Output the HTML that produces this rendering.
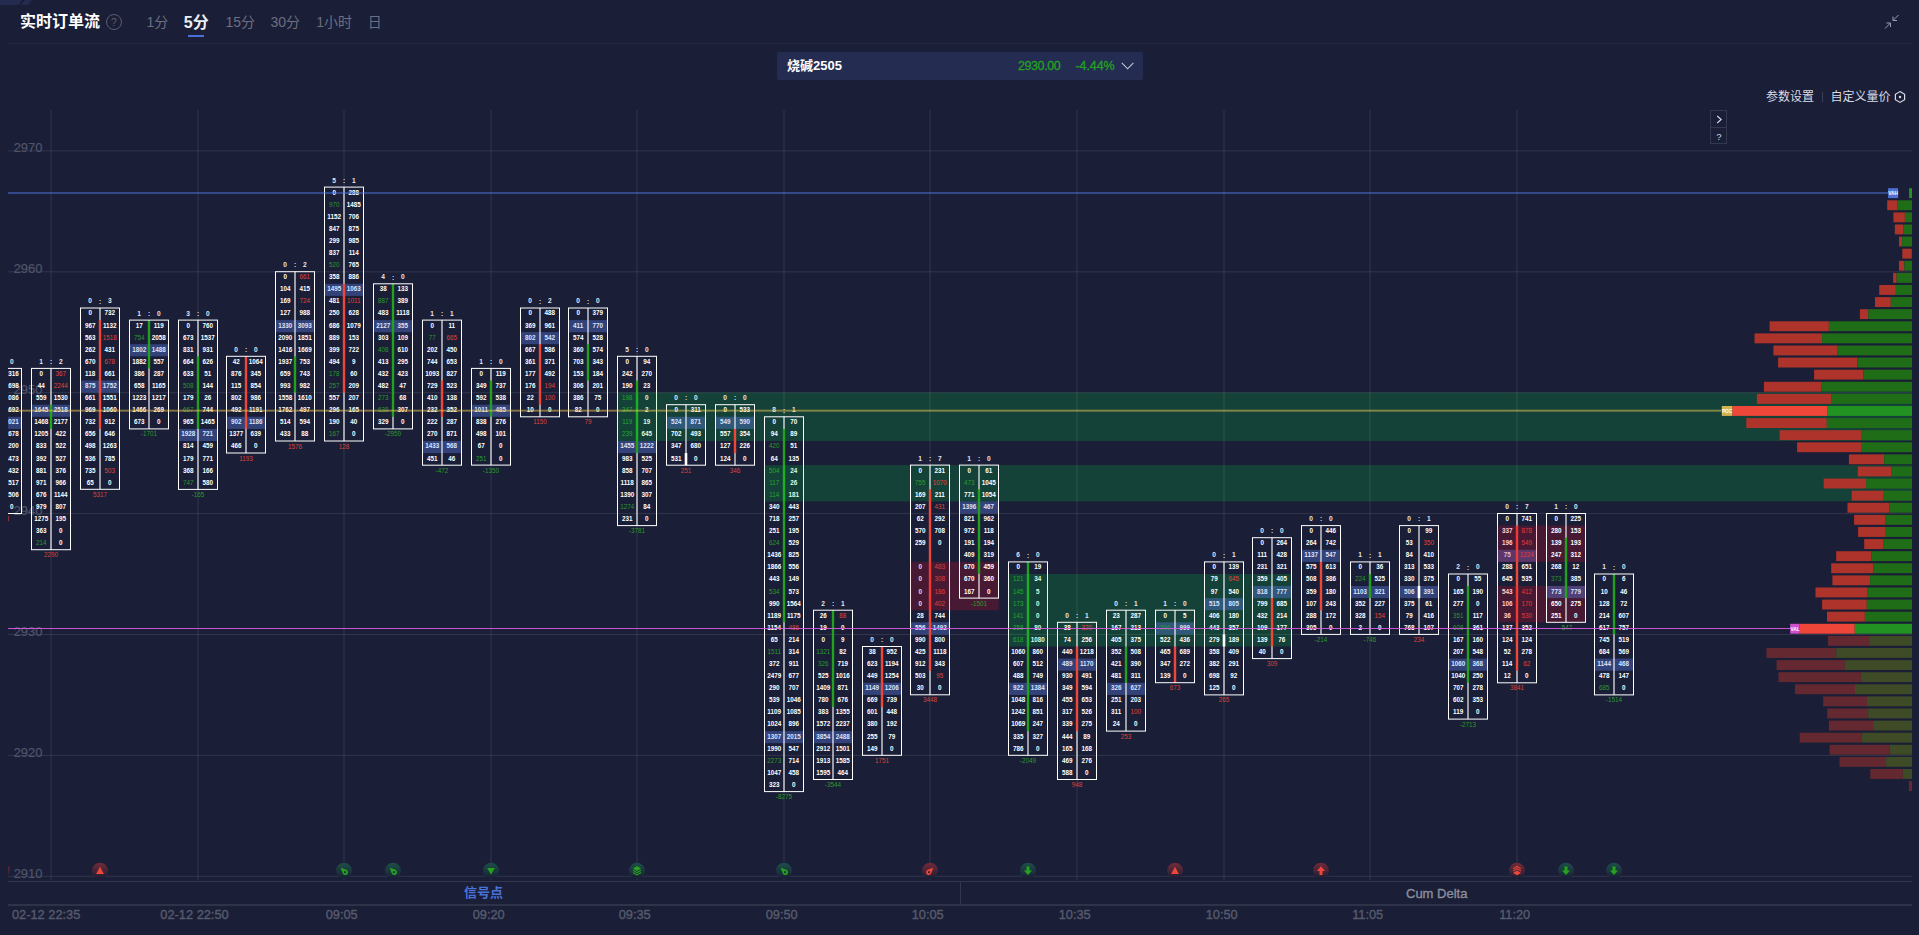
<!DOCTYPE html>
<html lang="zh-CN"><head><meta charset="utf-8"><title>实时订单流</title>
<style>
html,body{margin:0;padding:0;background:#1a1e37;}
body{width:1919px;height:935px;overflow:hidden;position:relative;font-family:"Liberation Sans","Noto Sans CJK SC",sans-serif;color:#fff;}
.abs{position:absolute;white-space:nowrap;}
.title{left:20px;top:10px;height:24px;line-height:24px;font-size:16px;font-weight:bold;color:#fff;}
.tab{top:11px;height:22px;line-height:22px;font-size:14px;color:#6b6f82;}
.tab.on{font-size:16px;font-weight:bold;color:#eceef5;top:11.5px;}
.hline{left:8px;width:1904px;top:43px;height:1px;background:#24283f;}
.sel{left:777px;top:52px;width:366px;height:28px;background:#252c52;border-radius:2px;}
.sel .nm{left:10px;top:0;line-height:27px;font-size:13px;font-weight:bold;color:#fff;}
.sel .pr{left:241px;top:0;line-height:29px;font-size:12.5px;color:#23a023;letter-spacing:-0.42px;-webkit-text-stroke:0.3px #23a023;}
.sel .pc{left:298.5px;top:0;line-height:29px;font-size:12.5px;color:#23a023;letter-spacing:-0.1px;-webkit-text-stroke:0.3px #23a023;}
.tool{top:88px;line-height:18px;font-size:12px;color:#d9dbe5;}
.btns{left:1710px;top:110px;width:15px;height:32px;border:1px solid #33374f;box-sizing:content-box;}
.strip{left:8px;width:1904px;top:881px;height:24px;border-top:1px solid #33364c;box-sizing:border-box;}
.strip2{left:8px;width:1904px;top:904.45px;height:1.5px;background:#2f3349;}
.tl{top:907.2px;line-height:16px;font-size:12.8px;color:#565a6c;-webkit-text-stroke:0.4px #565a6c;}
svg .ph{fill:#597bdf;fill-opacity:.4}
svg .wk{fill:#fff;fill-opacity:.56}
svg .bx{fill:none;stroke:#fff;stroke-width:1}
svg .bg{fill:#00ff3d;fill-opacity:.16}
svg .br{fill:#ff0a28;fill-opacity:.205}
svg .n{font-family:"Liberation Sans",sans-serif;font-size:6.3px;font-weight:bold;fill:#fff;text-anchor:middle}
svg .rt{font-family:"Liberation Sans",sans-serif;font-size:6.6px;font-weight:bold;fill:#e6e7ee;text-anchor:middle}
svg .dr,svg .dg{font-family:"Liberation Sans",sans-serif;font-size:6.4px;text-anchor:middle}
svg .dr{fill:#d8453b}
svg .dg{fill:#2a9a2a}
svg text.g{fill:#2a9a2a;font-weight:normal}
svg text.r{fill:#e0453a;font-weight:normal}
svg text.p{fill:#dbe3ff}
</style></head><body>
<svg class="abs" style="left:0;top:0" width="32" height="6" viewBox="0 0 32 6"><path d="M0 0 H32 L28 5 H0 Z" fill="#232b4f"/><path d="M22 0 H24.5 L21 5 H18.5 Z" fill="#1a1e37"/></svg>
<div class="abs title">实时订单流</div>
<svg class="abs" style="left:105px;top:13px" width="18" height="18" viewBox="0 0 18 18"><circle cx="9" cy="9" r="7.5" fill="none" stroke="#5b5f73" stroke-width="1"/><text x="9" y="12.6" font-size="10.5" fill="#5b5f73" text-anchor="middle" font-family="Liberation Sans, sans-serif">?</text></svg>
<div class="abs tab" style="left:146.5px">1分</div>
<div class="abs tab on" style="left:183.8px">5分</div>
<div class="abs" style="left:188px;top:35px;width:16px;height:2px;background:#4a6fd8"></div>
<div class="abs tab" style="left:225.5px">15分</div>
<div class="abs tab" style="left:270.5px">30分</div>
<div class="abs tab" style="left:316.3px">1小时</div>
<div class="abs tab" style="left:367.8px">日</div>
<svg class="abs" style="left:1883px;top:13px" width="18" height="18" viewBox="0 0 18 18" fill="none" stroke="#9a9eb0" stroke-width="1"><path d="M15.5 2 L10 7.5 M10 3.5 V7.5 H14 M2 15.5 L7.5 10 M3.5 10 H7.5 V14"/></svg>
<div class="abs hline"></div>
<div class="abs sel"><span class="abs nm">烧碱2505</span><span class="abs pr">2930.00</span><span class="abs pc">-4.44%</span>
<svg class="abs" style="left:343px;top:9px" width="16" height="10" viewBox="0 0 16 10" fill="none" stroke="#c3c7d3" stroke-width="1.1"><path d="M1.8 1.8 L7.6 7.8 L13.4 1.8"/></svg></div>
<div class="abs tool" style="left:1766px">参数设置</div>
<div class="abs" style="left:1822px;top:92px;width:1px;height:10px;background:#3a3e58"></div>
<div class="abs tool" style="left:1830.5px">自定义量价</div>
<svg class="abs" style="left:1893px;top:90px" width="14" height="14" viewBox="0 0 14 14"><path d="M7 1.6 L11.6 4.3 V9.7 L7 12.4 L2.4 9.7 V4.3 Z" fill="none" stroke="#d9dbe5" stroke-width="1.2"/><circle cx="7" cy="7" r="1.2" fill="#d9dbe5"/></svg>
<div class="abs btns"><svg class="abs" style="left:0;top:0" width="16" height="33" viewBox="0 0 16 33"><line x1="0" x2="16" y1="16.5" y2="16.5" stroke="#33374f"/><path d="M6.2 5 L10.2 8.5 L6.2 12" fill="none" stroke="#d9dbe5" stroke-width="1.1"/><text x="8" y="28.7" font-size="9.5" fill="#d9dbe5" text-anchor="middle" font-family="Liberation Sans, sans-serif">?</text></svg></div>

<svg class="abs" style="left:0;top:0" width="1919" height="935" viewBox="0 0 1919 935">
<defs>
<clipPath id="clipL"><rect x="8" y="100" width="1904" height="790"/></clipPath>
<linearGradient id="gradr" x1="0" y1="0" x2="0" y2="1"><stop offset="0" stop-color="#e03a3a" stop-opacity="0.45"/><stop offset="1" stop-color="#e03a3a" stop-opacity="0"/></linearGradient>
<linearGradient id="gradg" x1="0" y1="0" x2="0" y2="1"><stop offset="0" stop-color="#20a060" stop-opacity="0.38"/><stop offset="1" stop-color="#20a060" stop-opacity="0"/></linearGradient>
</defs>
<g id="grid" stroke="#ffffff" stroke-opacity="0.105" stroke-width="1">
<line x1="8" x2="1912" y1="150.9" y2="150.9"/>
<line x1="8" x2="1912" y1="271.8" y2="271.8"/>
<line x1="8" x2="1912" y1="392.7" y2="392.7"/>
<line x1="8" x2="1912" y1="513.6" y2="513.6"/>
<line x1="8" x2="1912" y1="634.5" y2="634.5"/>
<line x1="8" x2="1912" y1="755.4" y2="755.4"/>
<line x1="8" x2="1912" y1="876.3" y2="876.3"/>
<line x1="51" x2="51" y1="110" y2="880"/>
<line x1="198" x2="198" y1="110" y2="880"/>
<line x1="344" x2="344" y1="110" y2="880"/>
<line x1="491" x2="491" y1="110" y2="880"/>
<line x1="637" x2="637" y1="110" y2="880"/>
<line x1="784" x2="784" y1="110" y2="880"/>
<line x1="930" x2="930" y1="110" y2="880"/>
<line x1="1077" x2="1077" y1="110" y2="880"/>
<line x1="1224" x2="1224" y1="110" y2="880"/>
<line x1="1370" x2="1370" y1="110" y2="880"/>
<line x1="1517" x2="1517" y1="110" y2="880"/>
</g>
<g id="ylabels" font-size="12.9" fill="#50546a" stroke="#50546a" stroke-width="0.2" font-family="Liberation Sans, sans-serif">
<text x="13.7" y="152.1">2970</text>
<text x="13.7" y="273">2960</text>
<text x="13.7" y="393.9">2950</text>
<text x="13.7" y="514.8">2940</text>
<text x="13.7" y="635.7">2930</text>
<text x="13.7" y="756.6">2920</text>
<text x="13.7" y="877.5">2910</text>
</g>
<g id="bars" clip-path="url(#clipL)">
<g>
<rect class="ph" x="-18" y="416.8" width="40" height="12.1"/>
<rect class="wk" x="1" y="368.4" width="2" height="145.1"/>
<rect class="bx" x="-17.5" y="368.4" width="39" height="145.1"/>
<g class="n">
<text x="-7.8" y="375.8">0</text>
<text x="11.8" y="375.8">2316</text>
<text x="-7.8" y="387.9">84</text>
<text x="11.8" y="387.9">1698</text>
<text x="-7.8" y="400">913</text>
<text x="11.8" y="400">1086</text>
<text x="-7.8" y="412.1">1204</text>
<text x="11.8" y="412.1">1692</text>
<text x="-7.8" y="424.2" class="p">1833</text>
<text x="11.8" y="424.2" class="p">2021</text>
<text x="-7.8" y="436.3">967</text>
<text x="11.8" y="436.3">1678</text>
<text x="-7.8" y="448.4">455</text>
<text x="11.8" y="448.4">1200</text>
<text x="-7.8" y="460.5">612</text>
<text x="11.8" y="460.5">1473</text>
<text x="-7.8" y="472.6">388</text>
<text x="11.8" y="472.6">1432</text>
<text x="-7.8" y="484.6">702</text>
<text x="11.8" y="484.6">1517</text>
<text x="-7.8" y="496.7">344</text>
<text x="11.8" y="496.7">1506</text>
<text x="-7.8" y="508.8">161</text>
<text x="11.8" y="508.8">0</text>
</g>
<g class="rt"><text x="-7.8" y="363.9">1</text><text x="2" y="364.1">:</text><text x="11.8" y="363.9">0</text></g>
<text class="dr" x="2" y="521">1208</text>
</g>
<g>
<rect class="ph" x="31" y="404.7" width="40" height="12.1"/>
<rect class="wk" x="50" y="368.4" width="2" height="181.3"/>
<rect x="49.8" y="404.7" width="2.4" height="24.2" fill="#22a01e"/>
<rect class="bx" x="31.5" y="368.4" width="39" height="181.3"/>
<g class="n">
<text x="41.2" y="375.8">0</text>
<text x="60.8" y="375.8" class="r">367</text>
<text x="41.2" y="387.9">44</text>
<text x="60.8" y="387.9" class="r">2244</text>
<text x="41.2" y="400">559</text>
<text x="60.8" y="400">1530</text>
<text x="41.2" y="412.1" class="p">1645</text>
<text x="60.8" y="412.1" class="p">2518</text>
<text x="41.2" y="424.2">1468</text>
<text x="60.8" y="424.2">2177</text>
<text x="41.2" y="436.3">1205</text>
<text x="60.8" y="436.3">422</text>
<text x="41.2" y="448.4">833</text>
<text x="60.8" y="448.4">522</text>
<text x="41.2" y="460.5">392</text>
<text x="60.8" y="460.5">527</text>
<text x="41.2" y="472.6">881</text>
<text x="60.8" y="472.6">376</text>
<text x="41.2" y="484.6">971</text>
<text x="60.8" y="484.6">966</text>
<text x="41.2" y="496.7">676</text>
<text x="60.8" y="496.7">1144</text>
<text x="41.2" y="508.8">979</text>
<text x="60.8" y="508.8">807</text>
<text x="41.2" y="520.9">1275</text>
<text x="60.8" y="520.9">195</text>
<text x="41.2" y="533">363</text>
<text x="60.8" y="533">0</text>
<text x="41.2" y="545.1" class="g">214</text>
<text x="60.8" y="545.1">0</text>
</g>
<g class="rt"><text x="41.2" y="363.9">1</text><text x="51" y="364.1">:</text><text x="60.8" y="363.9">2</text></g>
<text class="dr" x="51" y="557.3">2290</text>
</g>
<g>
<rect class="ph" x="80" y="380.5" width="40" height="12.1"/>
<rect class="wk" x="99" y="308" width="2" height="181.3"/>
<rect x="98.8" y="320.1" width="2.4" height="108.8" fill="#ee4638"/>
<rect class="bx" x="80.5" y="308" width="39" height="181.3"/>
<g class="n">
<text x="90.2" y="315.4">0</text>
<text x="109.8" y="315.4">732</text>
<text x="90.2" y="327.5">967</text>
<text x="109.8" y="327.5">1132</text>
<text x="90.2" y="339.6">563</text>
<text x="109.8" y="339.6" class="r">1518</text>
<text x="90.2" y="351.7">262</text>
<text x="109.8" y="351.7">431</text>
<text x="90.2" y="363.7">670</text>
<text x="109.8" y="363.7" class="r">678</text>
<text x="90.2" y="375.8">118</text>
<text x="109.8" y="375.8">661</text>
<text x="90.2" y="387.9" class="p">875</text>
<text x="109.8" y="387.9" class="p">1752</text>
<text x="90.2" y="400">661</text>
<text x="109.8" y="400">1551</text>
<text x="90.2" y="412.1">969</text>
<text x="109.8" y="412.1">1060</text>
<text x="90.2" y="424.2">732</text>
<text x="109.8" y="424.2">912</text>
<text x="90.2" y="436.3">656</text>
<text x="109.8" y="436.3">646</text>
<text x="90.2" y="448.4">498</text>
<text x="109.8" y="448.4">1263</text>
<text x="90.2" y="460.5">536</text>
<text x="109.8" y="460.5">785</text>
<text x="90.2" y="472.6">735</text>
<text x="109.8" y="472.6" class="r">503</text>
<text x="90.2" y="484.6">65</text>
<text x="109.8" y="484.6">0</text>
</g>
<g class="rt"><text x="90.2" y="303.4">0</text><text x="100" y="303.6">:</text><text x="109.8" y="303.4">3</text></g>
<text class="dr" x="100" y="496.8">5317</text>
</g>
<g>
<rect class="ph" x="129" y="344.2" width="40" height="12.1"/>
<rect class="wk" x="148" y="320.1" width="2" height="108.8"/>
<rect x="147.8" y="320.1" width="2.4" height="48.4" fill="#22a01e"/>
<rect class="bx" x="129.5" y="320.1" width="39" height="108.8"/>
<g class="n">
<text x="139.2" y="327.5">17</text>
<text x="158.8" y="327.5">119</text>
<text x="139.2" y="339.6" class="g">754</text>
<text x="158.8" y="339.6">2058</text>
<text x="139.2" y="351.7" class="p">1802</text>
<text x="158.8" y="351.7" class="p">1488</text>
<text x="139.2" y="363.7">1882</text>
<text x="158.8" y="363.7">557</text>
<text x="139.2" y="375.8">386</text>
<text x="158.8" y="375.8">287</text>
<text x="139.2" y="387.9">658</text>
<text x="158.8" y="387.9">1165</text>
<text x="139.2" y="400">1223</text>
<text x="158.8" y="400">1217</text>
<text x="139.2" y="412.1">1466</text>
<text x="158.8" y="412.1">269</text>
<text x="139.2" y="424.2">673</text>
<text x="158.8" y="424.2">0</text>
</g>
<g class="rt"><text x="139.2" y="315.5">1</text><text x="149" y="315.7">:</text><text x="158.8" y="315.5">0</text></g>
<text class="dg" x="149" y="436.4">-1701</text>
</g>
<g>
<rect class="ph" x="178" y="428.9" width="40" height="12.1"/>
<rect class="wk" x="197" y="320.1" width="2" height="169.3"/>
<rect x="196.8" y="356.3" width="2.4" height="72.5" fill="#22a01e"/>
<rect class="bx" x="178.5" y="320.1" width="39" height="169.3"/>
<g class="n">
<text x="188.2" y="327.5">0</text>
<text x="207.8" y="327.5">760</text>
<text x="188.2" y="339.6">673</text>
<text x="207.8" y="339.6">1537</text>
<text x="188.2" y="351.7">831</text>
<text x="207.8" y="351.7">931</text>
<text x="188.2" y="363.7">664</text>
<text x="207.8" y="363.7">626</text>
<text x="188.2" y="375.8">633</text>
<text x="207.8" y="375.8">51</text>
<text x="188.2" y="387.9" class="g">508</text>
<text x="207.8" y="387.9">144</text>
<text x="188.2" y="400">179</text>
<text x="207.8" y="400">26</text>
<text x="188.2" y="412.1" class="g">667</text>
<text x="207.8" y="412.1">744</text>
<text x="188.2" y="424.2">965</text>
<text x="207.8" y="424.2">1465</text>
<text x="188.2" y="436.3" class="p">1928</text>
<text x="207.8" y="436.3" class="p">721</text>
<text x="188.2" y="448.4">814</text>
<text x="207.8" y="448.4">459</text>
<text x="188.2" y="460.5">179</text>
<text x="207.8" y="460.5">771</text>
<text x="188.2" y="472.6">368</text>
<text x="207.8" y="472.6">166</text>
<text x="188.2" y="484.6" class="g">747</text>
<text x="207.8" y="484.6">580</text>
</g>
<g class="rt"><text x="188.2" y="315.5">3</text><text x="198" y="315.7">:</text><text x="207.8" y="315.5">0</text></g>
<text class="dg" x="198" y="496.8">-165</text>
</g>
<g>
<rect class="ph" x="226" y="416.8" width="40" height="12.1"/>
<rect class="wk" x="245" y="356.3" width="2" height="96.7"/>
<rect x="244.8" y="356.3" width="2.4" height="72.5" fill="#ee4638"/>
<rect class="bx" x="226.5" y="356.3" width="39" height="96.7"/>
<g class="n">
<text x="236.2" y="363.7">42</text>
<text x="255.8" y="363.7">1064</text>
<text x="236.2" y="375.8">876</text>
<text x="255.8" y="375.8">345</text>
<text x="236.2" y="387.9">115</text>
<text x="255.8" y="387.9">854</text>
<text x="236.2" y="400">802</text>
<text x="255.8" y="400">986</text>
<text x="236.2" y="412.1">492</text>
<text x="255.8" y="412.1">1191</text>
<text x="236.2" y="424.2" class="p">902</text>
<text x="255.8" y="424.2" class="p">1186</text>
<text x="236.2" y="436.3">1377</text>
<text x="255.8" y="436.3">639</text>
<text x="236.2" y="448.4">466</text>
<text x="255.8" y="448.4">0</text>
</g>
<g class="rt"><text x="236.2" y="351.8">0</text><text x="246" y="352">:</text><text x="255.8" y="351.8">0</text></g>
<text class="dr" x="246" y="460.6">1193</text>
</g>
<g>
<rect class="ph" x="275" y="320.1" width="40" height="12.1"/>
<rect class="wk" x="294" y="271.7" width="2" height="169.3"/>
<rect x="293.8" y="356.3" width="2.4" height="36.3" fill="#22a01e"/>
<rect class="bx" x="275.5" y="271.7" width="39" height="169.3"/>
<g class="n">
<text x="285.2" y="279.1">0</text>
<text x="304.8" y="279.1" class="r">661</text>
<text x="285.2" y="291.2">104</text>
<text x="304.8" y="291.2">415</text>
<text x="285.2" y="303.3">169</text>
<text x="304.8" y="303.3" class="r">724</text>
<text x="285.2" y="315.4">127</text>
<text x="304.8" y="315.4">988</text>
<text x="285.2" y="327.5" class="p">1330</text>
<text x="304.8" y="327.5" class="p">3093</text>
<text x="285.2" y="339.6">2090</text>
<text x="304.8" y="339.6">1851</text>
<text x="285.2" y="351.7">1416</text>
<text x="304.8" y="351.7">1669</text>
<text x="285.2" y="363.7">1937</text>
<text x="304.8" y="363.7">753</text>
<text x="285.2" y="375.8">659</text>
<text x="304.8" y="375.8">743</text>
<text x="285.2" y="387.9">993</text>
<text x="304.8" y="387.9">982</text>
<text x="285.2" y="400">1558</text>
<text x="304.8" y="400">1610</text>
<text x="285.2" y="412.1">1762</text>
<text x="304.8" y="412.1">497</text>
<text x="285.2" y="424.2">514</text>
<text x="304.8" y="424.2">594</text>
<text x="285.2" y="436.3">433</text>
<text x="304.8" y="436.3">88</text>
</g>
<g class="rt"><text x="285.2" y="267.2">0</text><text x="295" y="267.4">:</text><text x="304.8" y="267.2">2</text></g>
<text class="dr" x="295" y="448.5">1576</text>
</g>
<g>
<rect class="ph" x="324" y="283.8" width="40" height="12.1"/>
<rect class="wk" x="343" y="187.1" width="2" height="253.9"/>
<rect x="342.8" y="283.8" width="2.4" height="108.8" fill="#ee4638"/>
<rect class="bx" x="324.5" y="187.1" width="39" height="253.9"/>
<g class="n">
<text x="334.2" y="194.5">0</text>
<text x="353.8" y="194.5">288</text>
<text x="334.2" y="206.6" class="g">970</text>
<text x="353.8" y="206.6">1485</text>
<text x="334.2" y="218.7">1152</text>
<text x="353.8" y="218.7">706</text>
<text x="334.2" y="230.8">847</text>
<text x="353.8" y="230.8">875</text>
<text x="334.2" y="242.8">299</text>
<text x="353.8" y="242.8">985</text>
<text x="334.2" y="254.9">837</text>
<text x="353.8" y="254.9">114</text>
<text x="334.2" y="267" class="g">520</text>
<text x="353.8" y="267">765</text>
<text x="334.2" y="279.1">358</text>
<text x="353.8" y="279.1">886</text>
<text x="334.2" y="291.2" class="p">1495</text>
<text x="353.8" y="291.2" class="p">1063</text>
<text x="334.2" y="303.3">481</text>
<text x="353.8" y="303.3" class="r">1011</text>
<text x="334.2" y="315.4">250</text>
<text x="353.8" y="315.4">628</text>
<text x="334.2" y="327.5">686</text>
<text x="353.8" y="327.5">1079</text>
<text x="334.2" y="339.6">889</text>
<text x="353.8" y="339.6">153</text>
<text x="334.2" y="351.7">399</text>
<text x="353.8" y="351.7">722</text>
<text x="334.2" y="363.7">494</text>
<text x="353.8" y="363.7">9</text>
<text x="334.2" y="375.8" class="g">178</text>
<text x="353.8" y="375.8">60</text>
<text x="334.2" y="387.9" class="g">257</text>
<text x="353.8" y="387.9">209</text>
<text x="334.2" y="400">557</text>
<text x="353.8" y="400">207</text>
<text x="334.2" y="412.1">296</text>
<text x="353.8" y="412.1">165</text>
<text x="334.2" y="424.2">190</text>
<text x="353.8" y="424.2">40</text>
<text x="334.2" y="436.3" class="g">167</text>
<text x="353.8" y="436.3">0</text>
</g>
<g class="rt"><text x="334.2" y="182.5">5</text><text x="344" y="182.7">:</text><text x="353.8" y="182.5">1</text></g>
<text class="dr" x="344" y="448.5">128</text>
</g>
<g>
<rect class="ph" x="373" y="320.1" width="40" height="12.1"/>
<rect class="wk" x="392" y="283.8" width="2" height="145.1"/>
<rect x="391.8" y="283.8" width="2.4" height="133" fill="#22a01e"/>
<rect class="bx" x="373.5" y="283.8" width="39" height="145.1"/>
<g class="n">
<text x="383.2" y="291.2">38</text>
<text x="402.8" y="291.2">133</text>
<text x="383.2" y="303.3" class="g">887</text>
<text x="402.8" y="303.3">389</text>
<text x="383.2" y="315.4">483</text>
<text x="402.8" y="315.4">1118</text>
<text x="383.2" y="327.5" class="p">2127</text>
<text x="402.8" y="327.5" class="p">355</text>
<text x="383.2" y="339.6">303</text>
<text x="402.8" y="339.6">109</text>
<text x="383.2" y="351.7" class="g">408</text>
<text x="402.8" y="351.7">610</text>
<text x="383.2" y="363.7">413</text>
<text x="402.8" y="363.7">295</text>
<text x="383.2" y="375.8">432</text>
<text x="402.8" y="375.8">423</text>
<text x="383.2" y="387.9">482</text>
<text x="402.8" y="387.9">47</text>
<text x="383.2" y="400" class="g">273</text>
<text x="402.8" y="400">68</text>
<text x="383.2" y="412.1" class="g">638</text>
<text x="402.8" y="412.1">307</text>
<text x="383.2" y="424.2">329</text>
<text x="402.8" y="424.2">0</text>
</g>
<g class="rt"><text x="383.2" y="279.3">4</text><text x="393" y="279.5">:</text><text x="402.8" y="279.3">0</text></g>
<text class="dg" x="393" y="436.4">-2959</text>
</g>
<g>
<rect class="ph" x="422" y="441" width="40" height="12.1"/>
<rect class="wk" x="441" y="320.1" width="2" height="145.1"/>
<rect x="440.8" y="380.5" width="2.4" height="36.3" fill="#ee4638"/>
<rect class="bx" x="422.5" y="320.1" width="39" height="145.1"/>
<g class="n">
<text x="432.2" y="327.5">0</text>
<text x="451.8" y="327.5">11</text>
<text x="432.2" y="339.6" class="g">77</text>
<text x="451.8" y="339.6" class="r">665</text>
<text x="432.2" y="351.7">202</text>
<text x="451.8" y="351.7">450</text>
<text x="432.2" y="363.7">744</text>
<text x="451.8" y="363.7">653</text>
<text x="432.2" y="375.8">1093</text>
<text x="451.8" y="375.8">827</text>
<text x="432.2" y="387.9">729</text>
<text x="451.8" y="387.9">523</text>
<text x="432.2" y="400">410</text>
<text x="451.8" y="400">138</text>
<text x="432.2" y="412.1">232</text>
<text x="451.8" y="412.1">352</text>
<text x="432.2" y="424.2">222</text>
<text x="451.8" y="424.2">287</text>
<text x="432.2" y="436.3">270</text>
<text x="451.8" y="436.3">871</text>
<text x="432.2" y="448.4" class="p">1433</text>
<text x="451.8" y="448.4" class="p">568</text>
<text x="432.2" y="460.5">451</text>
<text x="451.8" y="460.5">46</text>
</g>
<g class="rt"><text x="432.2" y="315.5">1</text><text x="442" y="315.7">:</text><text x="451.8" y="315.5">1</text></g>
<text class="dg" x="442" y="472.6">-472</text>
</g>
<g>
<rect class="ph" x="471" y="404.7" width="40" height="12.1"/>
<rect class="wk" x="490" y="368.4" width="2" height="96.7"/>
<rect x="489.8" y="380.5" width="2.4" height="36.3" fill="#22a01e"/>
<rect class="bx" x="471.5" y="368.4" width="39" height="96.7"/>
<g class="n">
<text x="481.2" y="375.8">0</text>
<text x="500.8" y="375.8">119</text>
<text x="481.2" y="387.9">349</text>
<text x="500.8" y="387.9">737</text>
<text x="481.2" y="400">592</text>
<text x="500.8" y="400">538</text>
<text x="481.2" y="412.1" class="p">1011</text>
<text x="500.8" y="412.1" class="p">485</text>
<text x="481.2" y="424.2">838</text>
<text x="500.8" y="424.2">276</text>
<text x="481.2" y="436.3">498</text>
<text x="500.8" y="436.3">101</text>
<text x="481.2" y="448.4">67</text>
<text x="500.8" y="448.4">0</text>
<text x="481.2" y="460.5" class="g">251</text>
<text x="500.8" y="460.5">0</text>
</g>
<g class="rt"><text x="481.2" y="363.9">1</text><text x="491" y="364.1">:</text><text x="500.8" y="363.9">0</text></g>
<text class="dg" x="491" y="472.6">-1350</text>
</g>
<g>
<rect class="ph" x="520" y="332.1" width="40" height="12.1"/>
<rect class="wk" x="539" y="308" width="2" height="108.8"/>
<rect x="538.8" y="344.2" width="2.4" height="60.5" fill="#ee4638"/>
<rect class="bx" x="520.5" y="308" width="39" height="108.8"/>
<g class="n">
<text x="530.2" y="315.4">0</text>
<text x="549.8" y="315.4">488</text>
<text x="530.2" y="327.5">369</text>
<text x="549.8" y="327.5">961</text>
<text x="530.2" y="339.6" class="p">802</text>
<text x="549.8" y="339.6" class="p">542</text>
<text x="530.2" y="351.7">667</text>
<text x="549.8" y="351.7">586</text>
<text x="530.2" y="363.7">361</text>
<text x="549.8" y="363.7">371</text>
<text x="530.2" y="375.8">177</text>
<text x="549.8" y="375.8">492</text>
<text x="530.2" y="387.9">176</text>
<text x="549.8" y="387.9" class="r">194</text>
<text x="530.2" y="400">22</text>
<text x="549.8" y="400" class="r">100</text>
<text x="530.2" y="412.1">10</text>
<text x="549.8" y="412.1">0</text>
</g>
<g class="rt"><text x="530.2" y="303.4">0</text><text x="540" y="303.6">:</text><text x="549.8" y="303.4">2</text></g>
<text class="dr" x="540" y="424.3">1150</text>
</g>
<g>
<rect class="ph" x="568" y="320.1" width="40" height="12.1"/>
<rect class="wk" x="587" y="308" width="2" height="108.8"/>
<rect x="586.8" y="344.2" width="2.4" height="36.3" fill="#22a01e"/>
<rect class="bx" x="568.5" y="308" width="39" height="108.8"/>
<g class="n">
<text x="578.2" y="315.4">0</text>
<text x="597.8" y="315.4">379</text>
<text x="578.2" y="327.5" class="p">411</text>
<text x="597.8" y="327.5" class="p">770</text>
<text x="578.2" y="339.6">574</text>
<text x="597.8" y="339.6">528</text>
<text x="578.2" y="351.7">360</text>
<text x="597.8" y="351.7">574</text>
<text x="578.2" y="363.7">703</text>
<text x="597.8" y="363.7">343</text>
<text x="578.2" y="375.8">153</text>
<text x="597.8" y="375.8">184</text>
<text x="578.2" y="387.9">306</text>
<text x="597.8" y="387.9">201</text>
<text x="578.2" y="400">386</text>
<text x="597.8" y="400">75</text>
<text x="578.2" y="412.1">82</text>
<text x="597.8" y="412.1">0</text>
</g>
<g class="rt"><text x="578.2" y="303.4">0</text><text x="588" y="303.6">:</text><text x="597.8" y="303.4">0</text></g>
<text class="dr" x="588" y="424.3">79</text>
</g>
<g>
<rect class="ph" x="617" y="441" width="40" height="12.1"/>
<rect class="wk" x="636" y="356.3" width="2" height="169.3"/>
<rect x="635.8" y="380.5" width="2.4" height="72.5" fill="#22a01e"/>
<rect class="bx" x="617.5" y="356.3" width="39" height="169.3"/>
<g class="n">
<text x="627.2" y="363.7">0</text>
<text x="646.8" y="363.7">94</text>
<text x="627.2" y="375.8">242</text>
<text x="646.8" y="375.8">270</text>
<text x="627.2" y="387.9">190</text>
<text x="646.8" y="387.9">23</text>
<text x="627.2" y="400" class="g">198</text>
<text x="646.8" y="400">0</text>
<text x="627.2" y="412.1" class="g">347</text>
<text x="646.8" y="412.1">2</text>
<text x="627.2" y="424.2" class="g">119</text>
<text x="646.8" y="424.2">19</text>
<text x="627.2" y="436.3" class="g">239</text>
<text x="646.8" y="436.3">645</text>
<text x="627.2" y="448.4" class="p">1455</text>
<text x="646.8" y="448.4" class="p">1222</text>
<text x="627.2" y="460.5">983</text>
<text x="646.8" y="460.5">525</text>
<text x="627.2" y="472.6">858</text>
<text x="646.8" y="472.6">707</text>
<text x="627.2" y="484.6">1118</text>
<text x="646.8" y="484.6">865</text>
<text x="627.2" y="496.7">1390</text>
<text x="646.8" y="496.7">307</text>
<text x="627.2" y="508.8" class="g">1274</text>
<text x="646.8" y="508.8">84</text>
<text x="627.2" y="520.9">231</text>
<text x="646.8" y="520.9">0</text>
</g>
<g class="rt"><text x="627.2" y="351.8">5</text><text x="637" y="352">:</text><text x="646.8" y="351.8">0</text></g>
<text class="dg" x="637" y="533.1">-3781</text>
</g>
<rect class="bg" x="617.5" y="392.6" width="1294.5" height="48.4"/>
<g>
<rect class="ph" x="666" y="416.8" width="40" height="12.1"/>
<rect class="wk" x="685" y="404.7" width="2" height="60.5"/>
<rect x="684.7" y="453.1" width="2.6" height="12.1" fill="#ffffff"/>
<rect class="bx" x="666.5" y="404.7" width="39" height="60.5"/>
<g class="n">
<text x="676.2" y="412.1">0</text>
<text x="695.8" y="412.1">311</text>
<text x="676.2" y="424.2" class="p">524</text>
<text x="695.8" y="424.2" class="p">871</text>
<text x="676.2" y="436.3">702</text>
<text x="695.8" y="436.3">493</text>
<text x="676.2" y="448.4">347</text>
<text x="695.8" y="448.4">680</text>
<text x="676.2" y="460.5">531</text>
<text x="695.8" y="460.5">0</text>
</g>
<g class="rt"><text x="676.2" y="400.2">0</text><text x="686" y="400.4">:</text><text x="695.8" y="400.2">0</text></g>
<text class="dr" x="686" y="472.6">251</text>
</g>
<g>
<rect class="ph" x="715" y="416.8" width="40" height="12.1"/>
<rect class="wk" x="734" y="404.7" width="2" height="60.5"/>
<rect x="733.8" y="428.9" width="2.4" height="24.2" fill="#ee4638"/>
<rect class="bx" x="715.5" y="404.7" width="39" height="60.5"/>
<g class="n">
<text x="725.2" y="412.1">0</text>
<text x="744.8" y="412.1">533</text>
<text x="725.2" y="424.2" class="p">549</text>
<text x="744.8" y="424.2" class="p">590</text>
<text x="725.2" y="436.3">557</text>
<text x="744.8" y="436.3">354</text>
<text x="725.2" y="448.4">127</text>
<text x="744.8" y="448.4">226</text>
<text x="725.2" y="460.5">124</text>
<text x="744.8" y="460.5">0</text>
</g>
<g class="rt"><text x="725.2" y="400.2">0</text><text x="735" y="400.4">:</text><text x="744.8" y="400.2">0</text></g>
<text class="dr" x="735" y="472.6">346</text>
</g>
<g>
<rect class="ph" x="764" y="731.1" width="40" height="12.1"/>
<rect class="wk" x="783" y="416.8" width="2" height="374.8"/>
<rect x="782.8" y="428.9" width="2.4" height="193.4" fill="#22a01e"/>
<rect class="bx" x="764.5" y="416.8" width="39" height="374.8"/>
<g class="n">
<text x="774.2" y="424.2">0</text>
<text x="793.8" y="424.2">70</text>
<text x="774.2" y="436.3">94</text>
<text x="793.8" y="436.3">89</text>
<text x="774.2" y="448.4" class="g">420</text>
<text x="793.8" y="448.4">51</text>
<text x="774.2" y="460.5">64</text>
<text x="793.8" y="460.5">135</text>
<text x="774.2" y="472.6" class="g">504</text>
<text x="793.8" y="472.6">24</text>
<text x="774.2" y="484.6" class="g">117</text>
<text x="793.8" y="484.6">26</text>
<text x="774.2" y="496.7" class="g">114</text>
<text x="793.8" y="496.7">181</text>
<text x="774.2" y="508.8">340</text>
<text x="793.8" y="508.8">443</text>
<text x="774.2" y="520.9">718</text>
<text x="793.8" y="520.9">257</text>
<text x="774.2" y="533">251</text>
<text x="793.8" y="533">195</text>
<text x="774.2" y="545.1" class="g">624</text>
<text x="793.8" y="545.1">529</text>
<text x="774.2" y="557.2">1436</text>
<text x="793.8" y="557.2">825</text>
<text x="774.2" y="569.3">1866</text>
<text x="793.8" y="569.3">556</text>
<text x="774.2" y="581.4">443</text>
<text x="793.8" y="581.4">149</text>
<text x="774.2" y="593.5" class="g">534</text>
<text x="793.8" y="593.5">573</text>
<text x="774.2" y="605.5">990</text>
<text x="793.8" y="605.5">1564</text>
<text x="774.2" y="617.6">1189</text>
<text x="793.8" y="617.6">1175</text>
<text x="774.2" y="629.7">1154</text>
<text x="793.8" y="629.7" class="r">486</text>
<text x="774.2" y="641.8">65</text>
<text x="793.8" y="641.8">214</text>
<text x="774.2" y="653.9" class="g">1511</text>
<text x="793.8" y="653.9">314</text>
<text x="774.2" y="666">372</text>
<text x="793.8" y="666">911</text>
<text x="774.2" y="678.1">2479</text>
<text x="793.8" y="678.1">677</text>
<text x="774.2" y="690.2">290</text>
<text x="793.8" y="690.2">707</text>
<text x="774.2" y="702.3">539</text>
<text x="793.8" y="702.3">1046</text>
<text x="774.2" y="714.4">1109</text>
<text x="793.8" y="714.4">1085</text>
<text x="774.2" y="726.4">1024</text>
<text x="793.8" y="726.4">896</text>
<text x="774.2" y="738.5" class="p">1307</text>
<text x="793.8" y="738.5" class="p">2015</text>
<text x="774.2" y="750.6">1990</text>
<text x="793.8" y="750.6">547</text>
<text x="774.2" y="762.7" class="g">2273</text>
<text x="793.8" y="762.7">714</text>
<text x="774.2" y="774.8">1047</text>
<text x="793.8" y="774.8">458</text>
<text x="774.2" y="786.9">323</text>
<text x="793.8" y="786.9">0</text>
</g>
<g class="rt"><text x="774.2" y="412.3">8</text><text x="784" y="412.5">:</text><text x="793.8" y="412.3">1</text></g>
<text class="dg" x="784" y="799.1">-8275</text>
</g>
<rect class="bg" x="764.5" y="465.1" width="1147.5" height="36.3"/>
<g>
<rect class="ph" x="813" y="731.1" width="40" height="12.1"/>
<rect class="wk" x="832" y="610.2" width="2" height="169.3"/>
<rect x="831.8" y="610.2" width="2.4" height="96.7" fill="#22a01e"/>
<rect class="bx" x="813.5" y="610.2" width="39" height="169.3"/>
<g class="n">
<text x="823.2" y="617.6">26</text>
<text x="842.8" y="617.6" class="r">88</text>
<text x="823.2" y="629.7">19</text>
<text x="842.8" y="629.7">0</text>
<text x="823.2" y="641.8">0</text>
<text x="842.8" y="641.8">9</text>
<text x="823.2" y="653.9" class="g">1321</text>
<text x="842.8" y="653.9">82</text>
<text x="823.2" y="666" class="g">326</text>
<text x="842.8" y="666">719</text>
<text x="823.2" y="678.1">525</text>
<text x="842.8" y="678.1">1016</text>
<text x="823.2" y="690.2">1409</text>
<text x="842.8" y="690.2">871</text>
<text x="823.2" y="702.3">780</text>
<text x="842.8" y="702.3">676</text>
<text x="823.2" y="714.4">383</text>
<text x="842.8" y="714.4">1355</text>
<text x="823.2" y="726.4">1572</text>
<text x="842.8" y="726.4">2237</text>
<text x="823.2" y="738.5" class="p">3854</text>
<text x="842.8" y="738.5" class="p">2488</text>
<text x="823.2" y="750.6">2912</text>
<text x="842.8" y="750.6">1501</text>
<text x="823.2" y="762.7">1913</text>
<text x="842.8" y="762.7">1585</text>
<text x="823.2" y="774.8">1595</text>
<text x="842.8" y="774.8">464</text>
</g>
<g class="rt"><text x="823.2" y="605.7">2</text><text x="833" y="605.9">:</text><text x="842.8" y="605.7">1</text></g>
<text class="dg" x="833" y="787">-3544</text>
</g>
<g>
<rect class="ph" x="862" y="682.8" width="40" height="12.1"/>
<rect class="wk" x="881" y="646.5" width="2" height="108.8"/>
<rect x="880.8" y="646.5" width="2.4" height="60.5" fill="#ee4638"/>
<rect class="bx" x="862.5" y="646.5" width="39" height="108.8"/>
<g class="n">
<text x="872.2" y="653.9">38</text>
<text x="891.8" y="653.9">952</text>
<text x="872.2" y="666">623</text>
<text x="891.8" y="666">1194</text>
<text x="872.2" y="678.1">449</text>
<text x="891.8" y="678.1">1254</text>
<text x="872.2" y="690.2" class="p">1149</text>
<text x="891.8" y="690.2" class="p">1206</text>
<text x="872.2" y="702.3">669</text>
<text x="891.8" y="702.3">739</text>
<text x="872.2" y="714.4">601</text>
<text x="891.8" y="714.4">448</text>
<text x="872.2" y="726.4">380</text>
<text x="891.8" y="726.4">192</text>
<text x="872.2" y="738.5">255</text>
<text x="891.8" y="738.5">79</text>
<text x="872.2" y="750.6">149</text>
<text x="891.8" y="750.6">0</text>
</g>
<g class="rt"><text x="872.2" y="642">0</text><text x="882" y="642.2">:</text><text x="891.8" y="642">0</text></g>
<text class="dr" x="882" y="762.8">1751</text>
</g>
<g>
<rect class="ph" x="910" y="622.3" width="40" height="12.1"/>
<rect class="wk" x="929" y="465.1" width="2" height="229.7"/>
<rect x="928.8" y="489.3" width="2.4" height="181.3" fill="#ee4638"/>
<rect class="bx" x="910.5" y="465.1" width="39" height="229.7"/>
<g class="n">
<text x="920.2" y="472.6">0</text>
<text x="939.8" y="472.6">231</text>
<text x="920.2" y="484.6" class="g">755</text>
<text x="939.8" y="484.6" class="r">1070</text>
<text x="920.2" y="496.7">169</text>
<text x="939.8" y="496.7">211</text>
<text x="920.2" y="508.8">207</text>
<text x="939.8" y="508.8" class="r">431</text>
<text x="920.2" y="520.9">62</text>
<text x="939.8" y="520.9">292</text>
<text x="920.2" y="533">570</text>
<text x="939.8" y="533">708</text>
<text x="920.2" y="545.1">259</text>
<text x="939.8" y="545.1">0</text>
<text x="920.2" y="569.3">0</text>
<text x="939.8" y="569.3" class="r">483</text>
<text x="920.2" y="581.4">0</text>
<text x="939.8" y="581.4" class="r">308</text>
<text x="920.2" y="593.5">0</text>
<text x="939.8" y="593.5" class="r">186</text>
<text x="920.2" y="605.5">0</text>
<text x="939.8" y="605.5" class="r">402</text>
<text x="920.2" y="617.6">28</text>
<text x="939.8" y="617.6">744</text>
<text x="920.2" y="629.7" class="p">556</text>
<text x="939.8" y="629.7" class="p">1492</text>
<text x="920.2" y="641.8">990</text>
<text x="939.8" y="641.8">800</text>
<text x="920.2" y="653.9">425</text>
<text x="939.8" y="653.9">1118</text>
<text x="920.2" y="666">912</text>
<text x="939.8" y="666">343</text>
<text x="920.2" y="678.1">503</text>
<text x="939.8" y="678.1" class="r">95</text>
<text x="920.2" y="690.2">30</text>
<text x="939.8" y="690.2">0</text>
</g>
<g class="rt"><text x="920.2" y="460.6">1</text><text x="930" y="460.8">:</text><text x="939.8" y="460.6">7</text></g>
<text class="dr" x="930" y="702.4">3448</text>
</g>
<rect class="br" x="910.5" y="561.9" width="88" height="48.4"/>
<g>
<rect class="ph" x="959" y="501.4" width="40" height="12.1"/>
<rect class="wk" x="978" y="465.1" width="2" height="133"/>
<rect x="977.8" y="489.3" width="2.4" height="84.6" fill="#22a01e"/>
<rect class="bx" x="959.5" y="465.1" width="39" height="133"/>
<g class="n">
<text x="969.2" y="472.6">0</text>
<text x="988.8" y="472.6">61</text>
<text x="969.2" y="484.6" class="g">473</text>
<text x="988.8" y="484.6">1045</text>
<text x="969.2" y="496.7">771</text>
<text x="988.8" y="496.7">1054</text>
<text x="969.2" y="508.8" class="p">1396</text>
<text x="988.8" y="508.8" class="p">467</text>
<text x="969.2" y="520.9">821</text>
<text x="988.8" y="520.9">962</text>
<text x="969.2" y="533">972</text>
<text x="988.8" y="533">118</text>
<text x="969.2" y="545.1">191</text>
<text x="988.8" y="545.1">194</text>
<text x="969.2" y="557.2">409</text>
<text x="988.8" y="557.2">319</text>
<text x="969.2" y="569.3">670</text>
<text x="988.8" y="569.3">459</text>
<text x="969.2" y="581.4">670</text>
<text x="988.8" y="581.4">360</text>
<text x="969.2" y="593.5">167</text>
<text x="988.8" y="593.5">0</text>
</g>
<g class="rt"><text x="969.2" y="460.6">1</text><text x="979" y="460.8">:</text><text x="988.8" y="460.6">0</text></g>
<text class="dg" x="979" y="605.6">-1501</text>
</g>
<g>
<rect class="ph" x="1008" y="682.8" width="40" height="12.1"/>
<rect class="wk" x="1027" y="561.9" width="2" height="193.4"/>
<rect x="1026.8" y="561.9" width="2.4" height="169.3" fill="#22a01e"/>
<rect class="bx" x="1008.5" y="561.9" width="39" height="193.4"/>
<g class="n">
<text x="1018.2" y="569.3">0</text>
<text x="1037.8" y="569.3">19</text>
<text x="1018.2" y="581.4" class="g">121</text>
<text x="1037.8" y="581.4">34</text>
<text x="1018.2" y="593.5" class="g">145</text>
<text x="1037.8" y="593.5">5</text>
<text x="1018.2" y="605.5" class="g">173</text>
<text x="1037.8" y="605.5">0</text>
<text x="1018.2" y="617.6" class="g">141</text>
<text x="1037.8" y="617.6">0</text>
<text x="1018.2" y="629.7" class="g">258</text>
<text x="1037.8" y="629.7">80</text>
<text x="1018.2" y="641.8" class="g">618</text>
<text x="1037.8" y="641.8">1080</text>
<text x="1018.2" y="653.9">1060</text>
<text x="1037.8" y="653.9">860</text>
<text x="1018.2" y="666">607</text>
<text x="1037.8" y="666">512</text>
<text x="1018.2" y="678.1">488</text>
<text x="1037.8" y="678.1">749</text>
<text x="1018.2" y="690.2" class="p">922</text>
<text x="1037.8" y="690.2" class="p">1384</text>
<text x="1018.2" y="702.3">1048</text>
<text x="1037.8" y="702.3">816</text>
<text x="1018.2" y="714.4">1242</text>
<text x="1037.8" y="714.4">851</text>
<text x="1018.2" y="726.4">1069</text>
<text x="1037.8" y="726.4">247</text>
<text x="1018.2" y="738.5">335</text>
<text x="1037.8" y="738.5">327</text>
<text x="1018.2" y="750.6">786</text>
<text x="1037.8" y="750.6">0</text>
</g>
<g class="rt"><text x="1018.2" y="557.3">6</text><text x="1028" y="557.5">:</text><text x="1037.8" y="557.3">0</text></g>
<text class="dg" x="1028" y="762.8">-2049</text>
</g>
<rect class="bg" x="1008.5" y="574" width="283" height="72.5"/>
<g>
<rect class="ph" x="1057" y="658.6" width="40" height="12.1"/>
<rect class="wk" x="1076" y="622.3" width="2" height="157.2"/>
<rect x="1075.8" y="646.5" width="2.4" height="84.6" fill="#ee4638"/>
<rect class="bx" x="1057.5" y="622.3" width="39" height="157.2"/>
<g class="n">
<text x="1067.2" y="629.7">38</text>
<text x="1086.8" y="629.7" class="r">320</text>
<text x="1067.2" y="641.8">74</text>
<text x="1086.8" y="641.8">256</text>
<text x="1067.2" y="653.9">440</text>
<text x="1086.8" y="653.9">1218</text>
<text x="1067.2" y="666" class="p">489</text>
<text x="1086.8" y="666" class="p">1170</text>
<text x="1067.2" y="678.1">930</text>
<text x="1086.8" y="678.1">491</text>
<text x="1067.2" y="690.2">349</text>
<text x="1086.8" y="690.2">594</text>
<text x="1067.2" y="702.3">455</text>
<text x="1086.8" y="702.3">653</text>
<text x="1067.2" y="714.4">317</text>
<text x="1086.8" y="714.4">526</text>
<text x="1067.2" y="726.4">339</text>
<text x="1086.8" y="726.4">275</text>
<text x="1067.2" y="738.5">444</text>
<text x="1086.8" y="738.5">89</text>
<text x="1067.2" y="750.6">165</text>
<text x="1086.8" y="750.6">168</text>
<text x="1067.2" y="762.7">469</text>
<text x="1086.8" y="762.7">276</text>
<text x="1067.2" y="774.8">588</text>
<text x="1086.8" y="774.8">0</text>
</g>
<g class="rt"><text x="1067.2" y="617.8">0</text><text x="1077" y="618">:</text><text x="1086.8" y="617.8">1</text></g>
<text class="dr" x="1077" y="787">948</text>
</g>
<g>
<rect class="ph" x="1106" y="682.8" width="40" height="12.1"/>
<rect class="wk" x="1125" y="610.2" width="2" height="120.9"/>
<rect x="1124.8" y="646.5" width="2.4" height="36.3" fill="#22a01e"/>
<rect class="bx" x="1106.5" y="610.2" width="39" height="120.9"/>
<g class="n">
<text x="1116.2" y="617.6">23</text>
<text x="1135.8" y="617.6">287</text>
<text x="1116.2" y="629.7">167</text>
<text x="1135.8" y="629.7">213</text>
<text x="1116.2" y="641.8">405</text>
<text x="1135.8" y="641.8">375</text>
<text x="1116.2" y="653.9">352</text>
<text x="1135.8" y="653.9">508</text>
<text x="1116.2" y="666">421</text>
<text x="1135.8" y="666">390</text>
<text x="1116.2" y="678.1">481</text>
<text x="1135.8" y="678.1">311</text>
<text x="1116.2" y="690.2" class="p">326</text>
<text x="1135.8" y="690.2" class="p">627</text>
<text x="1116.2" y="702.3">251</text>
<text x="1135.8" y="702.3">203</text>
<text x="1116.2" y="714.4">311</text>
<text x="1135.8" y="714.4" class="r">100</text>
<text x="1116.2" y="726.4">24</text>
<text x="1135.8" y="726.4">0</text>
</g>
<g class="rt"><text x="1116.2" y="605.7">0</text><text x="1126" y="605.9">:</text><text x="1135.8" y="605.7">1</text></g>
<text class="dr" x="1126" y="738.6">253</text>
</g>
<g>
<rect class="ph" x="1155" y="622.3" width="40" height="12.1"/>
<rect class="wk" x="1174" y="610.2" width="2" height="72.5"/>
<rect x="1173.8" y="646.5" width="2.4" height="36.3" fill="#ee4638"/>
<rect class="bx" x="1155.5" y="610.2" width="39" height="72.5"/>
<g class="n">
<text x="1165.2" y="617.6">0</text>
<text x="1184.8" y="617.6">5</text>
<text x="1165.2" y="629.7" class="g">266</text>
<text x="1184.8" y="629.7" class="p">999</text>
<text x="1165.2" y="641.8">522</text>
<text x="1184.8" y="641.8">436</text>
<text x="1165.2" y="653.9">465</text>
<text x="1184.8" y="653.9">689</text>
<text x="1165.2" y="666">347</text>
<text x="1184.8" y="666">272</text>
<text x="1165.2" y="678.1">139</text>
<text x="1184.8" y="678.1">0</text>
</g>
<g class="rt"><text x="1165.2" y="605.7">1</text><text x="1175" y="605.9">:</text><text x="1184.8" y="605.7">0</text></g>
<text class="dr" x="1175" y="690.3">673</text>
</g>
<g>
<rect class="ph" x="1204" y="598.1" width="40" height="12.1"/>
<rect class="wk" x="1223" y="561.9" width="2" height="133"/>
<rect x="1222.7" y="634.4" width="2.6" height="12.1" fill="#ffffff"/>
<rect class="bx" x="1204.5" y="561.9" width="39" height="133"/>
<g class="n">
<text x="1214.2" y="569.3">0</text>
<text x="1233.8" y="569.3">139</text>
<text x="1214.2" y="581.4">79</text>
<text x="1233.8" y="581.4" class="r">645</text>
<text x="1214.2" y="593.5">97</text>
<text x="1233.8" y="593.5">540</text>
<text x="1214.2" y="605.5" class="p">515</text>
<text x="1233.8" y="605.5" class="p">805</text>
<text x="1214.2" y="617.6">406</text>
<text x="1233.8" y="617.6">180</text>
<text x="1214.2" y="629.7">443</text>
<text x="1233.8" y="629.7">357</text>
<text x="1214.2" y="641.8">279</text>
<text x="1233.8" y="641.8">189</text>
<text x="1214.2" y="653.9">358</text>
<text x="1233.8" y="653.9">409</text>
<text x="1214.2" y="666">382</text>
<text x="1233.8" y="666">291</text>
<text x="1214.2" y="678.1">698</text>
<text x="1233.8" y="678.1">92</text>
<text x="1214.2" y="690.2">125</text>
<text x="1233.8" y="690.2">0</text>
</g>
<g class="rt"><text x="1214.2" y="557.3">0</text><text x="1224" y="557.5">:</text><text x="1233.8" y="557.3">1</text></g>
<text class="dr" x="1224" y="702.4">265</text>
</g>
<g>
<rect class="ph" x="1252" y="586" width="40" height="12.1"/>
<rect class="wk" x="1271" y="537.7" width="2" height="120.9"/>
<rect x="1270.8" y="598.1" width="2.4" height="48.4" fill="#ee4638"/>
<rect class="bx" x="1252.5" y="537.7" width="39" height="120.9"/>
<g class="n">
<text x="1262.2" y="545.1">0</text>
<text x="1281.8" y="545.1">264</text>
<text x="1262.2" y="557.2">111</text>
<text x="1281.8" y="557.2">428</text>
<text x="1262.2" y="569.3">231</text>
<text x="1281.8" y="569.3">321</text>
<text x="1262.2" y="581.4">359</text>
<text x="1281.8" y="581.4">405</text>
<text x="1262.2" y="593.5" class="p">818</text>
<text x="1281.8" y="593.5" class="p">777</text>
<text x="1262.2" y="605.5">799</text>
<text x="1281.8" y="605.5">685</text>
<text x="1262.2" y="617.6">432</text>
<text x="1281.8" y="617.6">214</text>
<text x="1262.2" y="629.7">109</text>
<text x="1281.8" y="629.7">177</text>
<text x="1262.2" y="641.8">139</text>
<text x="1281.8" y="641.8">76</text>
<text x="1262.2" y="653.9">40</text>
<text x="1281.8" y="653.9">0</text>
</g>
<g class="rt"><text x="1262.2" y="533.2">0</text><text x="1272" y="533.4">:</text><text x="1281.8" y="533.2">0</text></g>
<text class="dr" x="1272" y="666.1">309</text>
</g>
<g>
<rect class="ph" x="1301" y="549.8" width="40" height="12.1"/>
<rect class="wk" x="1320" y="525.6" width="2" height="108.8"/>
<rect x="1319.8" y="561.9" width="2.4" height="48.4" fill="#ee4638"/>
<rect class="bx" x="1301.5" y="525.6" width="39" height="108.8"/>
<g class="n">
<text x="1311.2" y="533">0</text>
<text x="1330.8" y="533">446</text>
<text x="1311.2" y="545.1">264</text>
<text x="1330.8" y="545.1">742</text>
<text x="1311.2" y="557.2" class="p">1137</text>
<text x="1330.8" y="557.2" class="p">547</text>
<text x="1311.2" y="569.3">575</text>
<text x="1330.8" y="569.3">613</text>
<text x="1311.2" y="581.4">508</text>
<text x="1330.8" y="581.4">386</text>
<text x="1311.2" y="593.5">359</text>
<text x="1330.8" y="593.5">180</text>
<text x="1311.2" y="605.5">107</text>
<text x="1330.8" y="605.5">243</text>
<text x="1311.2" y="617.6">288</text>
<text x="1330.8" y="617.6">172</text>
<text x="1311.2" y="629.7">305</text>
<text x="1330.8" y="629.7">0</text>
</g>
<g class="rt"><text x="1311.2" y="521.1">0</text><text x="1321" y="521.3">:</text><text x="1330.8" y="521.1">0</text></g>
<text class="dg" x="1321" y="641.9">-214</text>
</g>
<g>
<rect class="ph" x="1350" y="586" width="40" height="12.1"/>
<rect class="wk" x="1369" y="561.9" width="2" height="72.5"/>
<rect x="1368.8" y="574" width="2.4" height="24.2" fill="#22a01e"/>
<rect class="bx" x="1350.5" y="561.9" width="39" height="72.5"/>
<g class="n">
<text x="1360.2" y="569.3">0</text>
<text x="1379.8" y="569.3">36</text>
<text x="1360.2" y="581.4" class="g">224</text>
<text x="1379.8" y="581.4">525</text>
<text x="1360.2" y="593.5" class="p">1103</text>
<text x="1379.8" y="593.5" class="p">321</text>
<text x="1360.2" y="605.5">352</text>
<text x="1379.8" y="605.5">227</text>
<text x="1360.2" y="617.6">328</text>
<text x="1379.8" y="617.6" class="r">154</text>
<text x="1360.2" y="629.7">2</text>
<text x="1379.8" y="629.7">0</text>
</g>
<g class="rt"><text x="1360.2" y="557.3">1</text><text x="1370" y="557.5">:</text><text x="1379.8" y="557.3">1</text></g>
<text class="dg" x="1370" y="641.9">-746</text>
</g>
<g>
<rect class="ph" x="1399" y="586" width="40" height="12.1"/>
<rect class="wk" x="1418" y="525.6" width="2" height="108.8"/>
<rect x="1417.7" y="586" width="2.6" height="12.1" fill="#ffffff"/>
<rect class="bx" x="1399.5" y="525.6" width="39" height="108.8"/>
<g class="n">
<text x="1409.2" y="533">0</text>
<text x="1428.8" y="533">99</text>
<text x="1409.2" y="545.1">53</text>
<text x="1428.8" y="545.1" class="r">350</text>
<text x="1409.2" y="557.2">84</text>
<text x="1428.8" y="557.2">410</text>
<text x="1409.2" y="569.3">313</text>
<text x="1428.8" y="569.3">533</text>
<text x="1409.2" y="581.4">330</text>
<text x="1428.8" y="581.4">375</text>
<text x="1409.2" y="593.5" class="p">506</text>
<text x="1428.8" y="593.5" class="p">391</text>
<text x="1409.2" y="605.5">375</text>
<text x="1428.8" y="605.5">61</text>
<text x="1409.2" y="617.6">79</text>
<text x="1428.8" y="617.6">416</text>
<text x="1409.2" y="629.7">768</text>
<text x="1428.8" y="629.7">107</text>
</g>
<g class="rt"><text x="1409.2" y="521.1">0</text><text x="1419" y="521.3">:</text><text x="1428.8" y="521.1">1</text></g>
<text class="dr" x="1419" y="641.9">234</text>
</g>
<g>
<rect class="ph" x="1448" y="658.6" width="40" height="12.1"/>
<rect class="wk" x="1467" y="574" width="2" height="145.1"/>
<rect x="1466.8" y="586" width="2.4" height="96.7" fill="#22a01e"/>
<rect class="bx" x="1448.5" y="574" width="39" height="145.1"/>
<g class="n">
<text x="1458.2" y="581.4">0</text>
<text x="1477.8" y="581.4">55</text>
<text x="1458.2" y="593.5">165</text>
<text x="1477.8" y="593.5">190</text>
<text x="1458.2" y="605.5">277</text>
<text x="1477.8" y="605.5">0</text>
<text x="1458.2" y="617.6" class="g">351</text>
<text x="1477.8" y="617.6">117</text>
<text x="1458.2" y="629.7" class="g">608</text>
<text x="1477.8" y="629.7">361</text>
<text x="1458.2" y="641.8">167</text>
<text x="1477.8" y="641.8">160</text>
<text x="1458.2" y="653.9">207</text>
<text x="1477.8" y="653.9">548</text>
<text x="1458.2" y="666" class="p">1060</text>
<text x="1477.8" y="666" class="p">368</text>
<text x="1458.2" y="678.1">1040</text>
<text x="1477.8" y="678.1">250</text>
<text x="1458.2" y="690.2">707</text>
<text x="1477.8" y="690.2">278</text>
<text x="1458.2" y="702.3">602</text>
<text x="1477.8" y="702.3">353</text>
<text x="1458.2" y="714.4">119</text>
<text x="1477.8" y="714.4">0</text>
</g>
<g class="rt"><text x="1458.2" y="569.4">2</text><text x="1468" y="569.6">:</text><text x="1477.8" y="569.4">0</text></g>
<text class="dg" x="1468" y="726.5">-2713</text>
</g>
<g>
<rect class="ph" x="1497" y="549.8" width="40" height="12.1"/>
<rect class="wk" x="1516" y="513.5" width="2" height="169.3"/>
<rect x="1515.8" y="525.6" width="2.4" height="145.1" fill="#ee4638"/>
<rect class="bx" x="1497.5" y="513.5" width="39" height="169.3"/>
<g class="n">
<text x="1507.2" y="520.9">0</text>
<text x="1526.8" y="520.9">741</text>
<text x="1507.2" y="533">337</text>
<text x="1526.8" y="533" class="r">878</text>
<text x="1507.2" y="545.1">196</text>
<text x="1526.8" y="545.1" class="r">549</text>
<text x="1507.2" y="557.2" class="p">75</text>
<text x="1526.8" y="557.2" class="r">1224</text>
<text x="1507.2" y="569.3">288</text>
<text x="1526.8" y="569.3">651</text>
<text x="1507.2" y="581.4">645</text>
<text x="1526.8" y="581.4">535</text>
<text x="1507.2" y="593.5">543</text>
<text x="1526.8" y="593.5" class="r">412</text>
<text x="1507.2" y="605.5">106</text>
<text x="1526.8" y="605.5" class="r">170</text>
<text x="1507.2" y="617.6">36</text>
<text x="1526.8" y="617.6" class="r">530</text>
<text x="1507.2" y="629.7">137</text>
<text x="1526.8" y="629.7">352</text>
<text x="1507.2" y="641.8">124</text>
<text x="1526.8" y="641.8">124</text>
<text x="1507.2" y="653.9">52</text>
<text x="1526.8" y="653.9">278</text>
<text x="1507.2" y="666">114</text>
<text x="1526.8" y="666" class="r">62</text>
<text x="1507.2" y="678.1">12</text>
<text x="1526.8" y="678.1">0</text>
</g>
<g class="rt"><text x="1507.2" y="509">0</text><text x="1517" y="509.2">:</text><text x="1526.8" y="509">7</text></g>
<text class="dr" x="1517" y="690.3">3841</text>
</g>
<rect class="br" x="1497.5" y="525.6" width="88" height="36.3"/>
<rect class="br" x="1497.5" y="586" width="88" height="36.3"/>
<g>
<rect class="ph" x="1546" y="586" width="40" height="12.1"/>
<rect class="wk" x="1565" y="513.5" width="2" height="108.8"/>
<rect x="1564.8" y="537.7" width="2.4" height="60.5" fill="#22a01e"/>
<rect class="bx" x="1546.5" y="513.5" width="39" height="108.8"/>
<g class="n">
<text x="1556.2" y="520.9">0</text>
<text x="1575.8" y="520.9">225</text>
<text x="1556.2" y="533">280</text>
<text x="1575.8" y="533">153</text>
<text x="1556.2" y="545.1">139</text>
<text x="1575.8" y="545.1">193</text>
<text x="1556.2" y="557.2">247</text>
<text x="1575.8" y="557.2">312</text>
<text x="1556.2" y="569.3">268</text>
<text x="1575.8" y="569.3">12</text>
<text x="1556.2" y="581.4" class="g">373</text>
<text x="1575.8" y="581.4">385</text>
<text x="1556.2" y="593.5" class="p">773</text>
<text x="1575.8" y="593.5" class="p">779</text>
<text x="1556.2" y="605.5">650</text>
<text x="1575.8" y="605.5">275</text>
<text x="1556.2" y="617.6">251</text>
<text x="1575.8" y="617.6">0</text>
</g>
<g class="rt"><text x="1556.2" y="509">1</text><text x="1566" y="509.2">:</text><text x="1575.8" y="509">0</text></g>
<text class="dg" x="1566" y="629.8">-547</text>
</g>
<g>
<rect class="ph" x="1594" y="658.6" width="40" height="12.1"/>
<rect class="wk" x="1613" y="574" width="2" height="120.9"/>
<rect x="1612.8" y="574" width="2.4" height="60.5" fill="#22a01e"/>
<rect class="bx" x="1594.5" y="574" width="39" height="120.9"/>
<g class="n">
<text x="1604.2" y="581.4">0</text>
<text x="1623.8" y="581.4">6</text>
<text x="1604.2" y="593.5">10</text>
<text x="1623.8" y="593.5">46</text>
<text x="1604.2" y="605.5">128</text>
<text x="1623.8" y="605.5">72</text>
<text x="1604.2" y="617.6">214</text>
<text x="1623.8" y="617.6">607</text>
<text x="1604.2" y="629.7">617</text>
<text x="1623.8" y="629.7">757</text>
<text x="1604.2" y="641.8">745</text>
<text x="1623.8" y="641.8">519</text>
<text x="1604.2" y="653.9">684</text>
<text x="1623.8" y="653.9">569</text>
<text x="1604.2" y="666" class="p">1144</text>
<text x="1623.8" y="666" class="p">468</text>
<text x="1604.2" y="678.1">478</text>
<text x="1623.8" y="678.1">147</text>
<text x="1604.2" y="690.2" class="g">685</text>
<text x="1623.8" y="690.2">0</text>
</g>
<g class="rt"><text x="1604.2" y="569.4">1</text><text x="1614" y="569.6">:</text><text x="1623.8" y="569.4">0</text></g>
<text class="dg" x="1614" y="702.4">-1514</text>
</g>
</g>
<g id="lines">
<rect x="8" y="192.2" width="1880" height="1.6" fill="#5580f0" fill-opacity="0.56"/>
<rect x="8" y="409.75" width="1713.4" height="1" fill="#f0cc58" fill-opacity="0.6"/>
<rect x="8" y="410.75" width="1713.4" height="1.1" fill="#f0cc58" fill-opacity="0.36"/>
<rect x="8" y="628" width="1782.2" height="1" fill="#dc5ae0" fill-opacity="0.9" shape-rendering="crispEdges"/>
</g>
<g id="profile">
<rect x="1909.1" y="188.2" width="2.9" height="9.9" fill="#229322"/>
<rect x="1887.2" y="200.3" width="9.9" height="9.9" fill="#ae332a"/>
<rect x="1897.1" y="200.3" width="14.9" height="9.9" fill="#1f6d17"/>
<rect x="1893.4" y="212.4" width="11.5" height="9.9" fill="#ae332a"/>
<rect x="1904.9" y="212.4" width="7.1" height="9.9" fill="#1f6d17"/>
<rect x="1894.8" y="224.5" width="8.4" height="9.9" fill="#ae332a"/>
<rect x="1903.2" y="224.5" width="8.8" height="9.9" fill="#1f6d17"/>
<rect x="1899" y="236.6" width="3.1" height="9.9" fill="#ae332a"/>
<rect x="1902.1" y="236.6" width="9.9" height="9.9" fill="#1f6d17"/>
<rect x="1902.3" y="248.7" width="8.7" height="9.9" fill="#ae332a"/>
<rect x="1911" y="248.7" width="1" height="9.9" fill="#1f6d17"/>
<rect x="1899" y="260.8" width="5.4" height="9.9" fill="#ae332a"/>
<rect x="1904.4" y="260.8" width="7.6" height="9.9" fill="#1f6d17"/>
<rect x="1893.1" y="272.9" width="3.5" height="9.9" fill="#ae332a"/>
<rect x="1896.6" y="272.9" width="15.4" height="9.9" fill="#1f6d17"/>
<rect x="1879.2" y="285" width="16.7" height="9.9" fill="#ae332a"/>
<rect x="1895.9" y="285" width="16.1" height="9.9" fill="#1f6d17"/>
<rect x="1875" y="297.1" width="15.8" height="9.9" fill="#ae332a"/>
<rect x="1890.8" y="297.1" width="21.2" height="9.9" fill="#1f6d17"/>
<rect x="1859.9" y="309.2" width="8.5" height="9.9" fill="#ae332a"/>
<rect x="1868.4" y="309.2" width="43.6" height="9.9" fill="#1f6d17"/>
<rect x="1769.6" y="321.3" width="59.3" height="9.9" fill="#ae332a"/>
<rect x="1828.9" y="321.3" width="83.1" height="9.9" fill="#1f6d17"/>
<rect x="1754.5" y="333.4" width="67.6" height="9.9" fill="#ae332a"/>
<rect x="1822.1" y="333.4" width="89.9" height="9.9" fill="#1f6d17"/>
<rect x="1773.4" y="345.5" width="63.7" height="9.9" fill="#ae332a"/>
<rect x="1837.1" y="345.5" width="74.9" height="9.9" fill="#1f6d17"/>
<rect x="1778.1" y="357.6" width="79.3" height="9.9" fill="#ae332a"/>
<rect x="1857.4" y="357.6" width="54.6" height="9.9" fill="#1f6d17"/>
<rect x="1814.1" y="369.7" width="49.4" height="9.9" fill="#ae332a"/>
<rect x="1863.5" y="369.7" width="48.5" height="9.9" fill="#1f6d17"/>
<rect x="1763.9" y="381.8" width="57.2" height="9.9" fill="#ae332a"/>
<rect x="1821.1" y="381.8" width="90.9" height="9.9" fill="#1f6d17"/>
<rect x="1756.9" y="393.9" width="74.3" height="9.9" fill="#ae332a"/>
<rect x="1831.2" y="393.9" width="80.8" height="9.9" fill="#1f6d17"/>
<rect x="1732.2" y="406" width="95" height="9.9" fill="#ee4638"/>
<rect x="1827.2" y="406" width="84.8" height="9.9" fill="#229322"/>
<rect x="1746.3" y="418.1" width="80.5" height="9.9" fill="#ae332a"/>
<rect x="1826.8" y="418.1" width="85.2" height="9.9" fill="#1f6d17"/>
<rect x="1779.7" y="430.2" width="81.4" height="9.9" fill="#ae332a"/>
<rect x="1861.1" y="430.2" width="50.9" height="9.9" fill="#1f6d17"/>
<rect x="1797.1" y="442.3" width="64.7" height="9.9" fill="#ae332a"/>
<rect x="1861.8" y="442.3" width="50.2" height="9.9" fill="#1f6d17"/>
<rect x="1848.9" y="454.4" width="35.3" height="9.9" fill="#ae332a"/>
<rect x="1884.2" y="454.4" width="27.8" height="9.9" fill="#1f6d17"/>
<rect x="1857.8" y="466.5" width="33.4" height="9.9" fill="#ae332a"/>
<rect x="1891.2" y="466.5" width="20.8" height="9.9" fill="#1f6d17"/>
<rect x="1823.7" y="478.6" width="42.6" height="9.9" fill="#ae332a"/>
<rect x="1866.3" y="478.6" width="45.7" height="9.9" fill="#1f6d17"/>
<rect x="1851.7" y="490.7" width="31.3" height="9.9" fill="#ae332a"/>
<rect x="1883" y="490.7" width="29" height="9.9" fill="#1f6d17"/>
<rect x="1847.5" y="502.8" width="42.1" height="9.9" fill="#ae332a"/>
<rect x="1889.6" y="502.8" width="22.4" height="9.9" fill="#1f6d17"/>
<rect x="1854.1" y="514.9" width="31" height="9.9" fill="#ae332a"/>
<rect x="1885.1" y="514.9" width="26.9" height="9.9" fill="#1f6d17"/>
<rect x="1858.1" y="527" width="27.7" height="9.9" fill="#ae332a"/>
<rect x="1885.8" y="527" width="26.2" height="9.9" fill="#1f6d17"/>
<rect x="1864.2" y="539.1" width="19.5" height="9.9" fill="#ae332a"/>
<rect x="1883.7" y="539.1" width="28.3" height="9.9" fill="#1f6d17"/>
<rect x="1836.2" y="551.2" width="35" height="9.9" fill="#ae332a"/>
<rect x="1871.2" y="551.2" width="40.8" height="9.9" fill="#1f6d17"/>
<rect x="1831.2" y="563.3" width="42.4" height="9.9" fill="#ae332a"/>
<rect x="1873.6" y="563.3" width="38.4" height="9.9" fill="#1f6d17"/>
<rect x="1832.4" y="575.4" width="37.7" height="9.9" fill="#ae332a"/>
<rect x="1870.1" y="575.4" width="41.9" height="9.9" fill="#1f6d17"/>
<rect x="1815.5" y="587.5" width="52.2" height="9.9" fill="#ae332a"/>
<rect x="1867.7" y="587.5" width="44.3" height="9.9" fill="#1f6d17"/>
<rect x="1822.1" y="599.6" width="44.7" height="9.9" fill="#ae332a"/>
<rect x="1866.8" y="599.6" width="45.2" height="9.9" fill="#1f6d17"/>
<rect x="1827" y="611.7" width="37.9" height="9.9" fill="#ae332a"/>
<rect x="1864.9" y="611.7" width="47.1" height="9.9" fill="#1f6d17"/>
<rect x="1799.7" y="623.8" width="55.1" height="9.9" fill="#ee4638"/>
<rect x="1854.8" y="623.8" width="57.2" height="9.9" fill="#229322"/>
<rect x="1827.9" y="635.9" width="41.2" height="9.9" fill="#642830"/>
<rect x="1869.1" y="635.9" width="42.9" height="9.9" fill="#3f4a26"/>
<rect x="1766.5" y="648" width="69.7" height="9.9" fill="#642830"/>
<rect x="1836.2" y="648" width="75.8" height="9.9" fill="#3f4a26"/>
<rect x="1776.6" y="660.1" width="68.3" height="9.9" fill="#642830"/>
<rect x="1844.9" y="660.1" width="67.1" height="9.9" fill="#3f4a26"/>
<rect x="1778.5" y="672.2" width="82.4" height="9.9" fill="#642830"/>
<rect x="1860.9" y="672.2" width="51.1" height="9.9" fill="#3f4a26"/>
<rect x="1795" y="684.3" width="60" height="9.9" fill="#642830"/>
<rect x="1855" y="684.3" width="57" height="9.9" fill="#3f4a26"/>
<rect x="1823.2" y="696.4" width="43.8" height="9.9" fill="#642830"/>
<rect x="1867" y="696.4" width="45" height="9.9" fill="#3f4a26"/>
<rect x="1827.2" y="708.5" width="41" height="9.9" fill="#642830"/>
<rect x="1868.2" y="708.5" width="43.8" height="9.9" fill="#3f4a26"/>
<rect x="1828.9" y="720.6" width="44.2" height="9.9" fill="#642830"/>
<rect x="1873.1" y="720.6" width="38.9" height="9.9" fill="#3f4a26"/>
<rect x="1799.7" y="732.7" width="62.1" height="9.9" fill="#642830"/>
<rect x="1861.8" y="732.7" width="50.2" height="9.9" fill="#3f4a26"/>
<rect x="1829.6" y="744.8" width="60" height="9.9" fill="#642830"/>
<rect x="1889.6" y="744.8" width="22.4" height="9.9" fill="#3f4a26"/>
<rect x="1839.5" y="756.9" width="46.6" height="9.9" fill="#642830"/>
<rect x="1886.1" y="756.9" width="25.9" height="9.9" fill="#3f4a26"/>
<rect x="1870.3" y="769" width="32.5" height="9.9" fill="#642830"/>
<rect x="1902.8" y="769" width="9.2" height="9.9" fill="#3f4a26"/>
<rect x="1908.9" y="781.1" width="3.1" height="9.9" fill="#642830"/>
</g>
<rect x="1888.1" y="188.2" width="10" height="9.9" fill="#4f72d2"/>
<text x="1893.1" y="195.4" font-family="Liberation Sans, sans-serif" font-size="6.2" font-weight="bold" fill="#ffffff" text-anchor="middle" textLength="9.7" lengthAdjust="spacingAndGlyphs">VAH</text>
<rect x="1721.8" y="406" width="10.4" height="9.9" fill="#d2b450"/>
<text x="1727" y="413.2" font-family="Liberation Sans, sans-serif" font-size="6.2" font-weight="bold" fill="#ffffff" text-anchor="middle" textLength="10.1" lengthAdjust="spacingAndGlyphs">POC</text>
<rect x="1790.2" y="623.8" width="9.5" height="9.9" fill="#d050d0"/>
<text x="1795" y="631" font-family="Liberation Sans, sans-serif" font-size="6.2" font-weight="bold" fill="#ffffff" text-anchor="middle" textLength="9.2" lengthAdjust="spacingAndGlyphs">VAL</text>
<g id="signals" clip-path="url(#clipL)">
<circle cx="2" cy="870.7" r="8" fill="#1a1e37"/>
<circle cx="2" cy="870.7" r="8" fill="url(#gradr)"/>
<g transform="translate(2 870.7)" fill="#ee4638" stroke="none">
<path d="M0 -3.9 L3.9 3.4 L-3.9 3.4 Z"/>
</g>
<circle cx="100" cy="870.7" r="8" fill="#1a1e37"/>
<circle cx="100" cy="870.7" r="8" fill="url(#gradr)"/>
<g transform="translate(100 870.7)" fill="#ee4638" stroke="none">
<path d="M0 -3.9 L3.9 3.4 L-3.9 3.4 Z"/>
</g>
<circle cx="344" cy="870.7" r="8" fill="#1a1e37"/>
<circle cx="344" cy="870.7" r="8" fill="url(#gradg)"/>
<g transform="translate(344 870.7)" fill="#26a21c" stroke="none">
<path transform="translate(-0.3 -0.3) scale(0.92)" d="M-3.3 -2.9 L2.4 -0.9 A3 3 0 1 1 -1.2 2.9 Z M1.4 0.6 A1.25 1.25 0 1 0 1.41 0.6 Z" fill-rule="evenodd"/>
</g>
<circle cx="393" cy="870.7" r="8" fill="#1a1e37"/>
<circle cx="393" cy="870.7" r="8" fill="url(#gradg)"/>
<g transform="translate(393 870.7)" fill="#26a21c" stroke="none">
<path transform="translate(-0.3 -0.3) scale(0.92)" d="M-3.3 -2.9 L2.4 -0.9 A3 3 0 1 1 -1.2 2.9 Z M1.4 0.6 A1.25 1.25 0 1 0 1.41 0.6 Z" fill-rule="evenodd"/>
</g>
<circle cx="491" cy="870.7" r="8" fill="#1a1e37"/>
<circle cx="491" cy="870.7" r="8" fill="url(#gradg)"/>
<g transform="translate(491 870.7)" fill="#26a21c" stroke="none">
<path d="M0 3.8 L3.9 -2.7 L-3.9 -2.7 Z"/>
</g>
<circle cx="637" cy="870.7" r="8" fill="#1a1e37"/>
<circle cx="637" cy="870.7" r="8" fill="url(#gradg)"/>
<g transform="translate(637 870.7)" fill="#26a21c" stroke="none">
<path d="M0 -4.6 L4 -2.2 L0 0.2 L-4 -2.2 Z"/>
<path d="M-4 -0.4 L0 2 L4 -0.4 M-4 1.8 L0 4.2 L4 1.8" fill="none" stroke="#26a21c" stroke-width="1.1"/>
</g>
<circle cx="784" cy="870.7" r="8" fill="#1a1e37"/>
<circle cx="784" cy="870.7" r="8" fill="url(#gradg)"/>
<g transform="translate(784 870.7)" fill="#26a21c" stroke="none">
<path transform="translate(-0.3 -0.3) scale(0.92)" d="M-3.3 -2.9 L2.4 -0.9 A3 3 0 1 1 -1.2 2.9 Z M1.4 0.6 A1.25 1.25 0 1 0 1.41 0.6 Z" fill-rule="evenodd"/>
</g>
<circle cx="930" cy="870.7" r="8" fill="#1a1e37"/>
<circle cx="930" cy="870.7" r="8" fill="url(#gradr)"/>
<g transform="translate(930 870.7)" fill="#ee4638" stroke="none">
<path transform="translate(0.3 -0.3) scale(0.92)" d="M3.3 -2.9 L-2.4 -0.9 A3 3 0 1 0 1.2 2.9 Z M-1.4 0.6 A1.25 1.25 0 1 1 -1.41 0.6 Z" fill-rule="evenodd"/>
</g>
<circle cx="1028" cy="870.7" r="8" fill="#1a1e37"/>
<circle cx="1028" cy="870.7" r="8" fill="url(#gradg)"/>
<g transform="translate(1028 870.7)" fill="#26a21c" stroke="none">
<path d="M-1.5 -4.3 H1.5 V-0.2 H4.1 L0 4.4 L-4.1 -0.2 H-1.5 Z"/>
</g>
<circle cx="1175" cy="870.7" r="8" fill="#1a1e37"/>
<circle cx="1175" cy="870.7" r="8" fill="url(#gradr)"/>
<g transform="translate(1175 870.7)" fill="#ee4638" stroke="none">
<path d="M0 -3.9 L3.9 3.4 L-3.9 3.4 Z"/>
</g>
<circle cx="1321" cy="870.7" r="8" fill="#1a1e37"/>
<circle cx="1321" cy="870.7" r="8" fill="url(#gradr)"/>
<g transform="translate(1321 870.7)" fill="#ee4638" stroke="none">
<path d="M-1.5 4.3 H1.5 V0.2 H4.1 L0 -4.4 L-4.1 0.2 H-1.5 Z"/>
</g>
<circle cx="1517" cy="870.7" r="8" fill="#1a1e37"/>
<circle cx="1517" cy="870.7" r="8" fill="url(#gradr)"/>
<g transform="translate(1517 870.7)" fill="#ee4638" stroke="none">
<g transform="scale(1 -1)">
<path d="M0 -4.6 L4 -2.2 L0 0.2 L-4 -2.2 Z"/>
<path d="M-4 -0.4 L0 2 L4 -0.4 M-4 1.8 L0 4.2 L4 1.8" fill="none" stroke="#ee4638" stroke-width="1.1"/>
</g>
</g>
<circle cx="1566" cy="870.7" r="8" fill="#1a1e37"/>
<circle cx="1566" cy="870.7" r="8" fill="url(#gradg)"/>
<g transform="translate(1566 870.7)" fill="#26a21c" stroke="none">
<path d="M-1.5 -4.3 H1.5 V-0.2 H4.1 L0 4.4 L-4.1 -0.2 H-1.5 Z"/>
</g>
<circle cx="1614" cy="870.7" r="8" fill="#1a1e37"/>
<circle cx="1614" cy="870.7" r="8" fill="url(#gradg)"/>
<g transform="translate(1614 870.7)" fill="#26a21c" stroke="none">
<path d="M-1.5 -4.3 H1.5 V-0.2 H4.1 L0 4.4 L-4.1 -0.2 H-1.5 Z"/>
</g>
</g>
</svg>

<div class="abs strip"></div><div class="abs strip2"></div>
<div class="abs" style="left:960px;top:882px;width:1px;height:22px;background:#33364c"></div>
<div class="abs" style="left:464px;top:884px;line-height:18px;font-size:13px;font-weight:bold;color:#4a72d8">信号点</div>
<div class="abs" style="left:1406px;top:884.5px;line-height:18px;font-size:13px;color:#8b8e9c;-webkit-text-stroke:0.35px #8b8e9c">Cum Delta</div>
<div class="abs tl" style="left:12px">02-12 22:35</div>
<div class="abs tl" style="left:198px;width:100px;margin-left:-53.5px;text-align:center">02-12 22:50</div>
<div class="abs tl" style="left:344px;width:100px;margin-left:-52.3px;text-align:center">09:05</div>
<div class="abs tl" style="left:491px;width:100px;margin-left:-52.3px;text-align:center">09:20</div>
<div class="abs tl" style="left:637px;width:100px;margin-left:-52.3px;text-align:center">09:35</div>
<div class="abs tl" style="left:784px;width:100px;margin-left:-52.3px;text-align:center">09:50</div>
<div class="abs tl" style="left:930px;width:100px;margin-left:-52.3px;text-align:center">10:05</div>
<div class="abs tl" style="left:1077px;width:100px;margin-left:-52.3px;text-align:center">10:35</div>
<div class="abs tl" style="left:1224px;width:100px;margin-left:-52.3px;text-align:center">10:50</div>
<div class="abs tl" style="left:1370px;width:100px;margin-left:-52.3px;text-align:center">11:05</div>
<div class="abs tl" style="left:1517px;width:100px;margin-left:-52.3px;text-align:center">11:20</div>
</body></html>
